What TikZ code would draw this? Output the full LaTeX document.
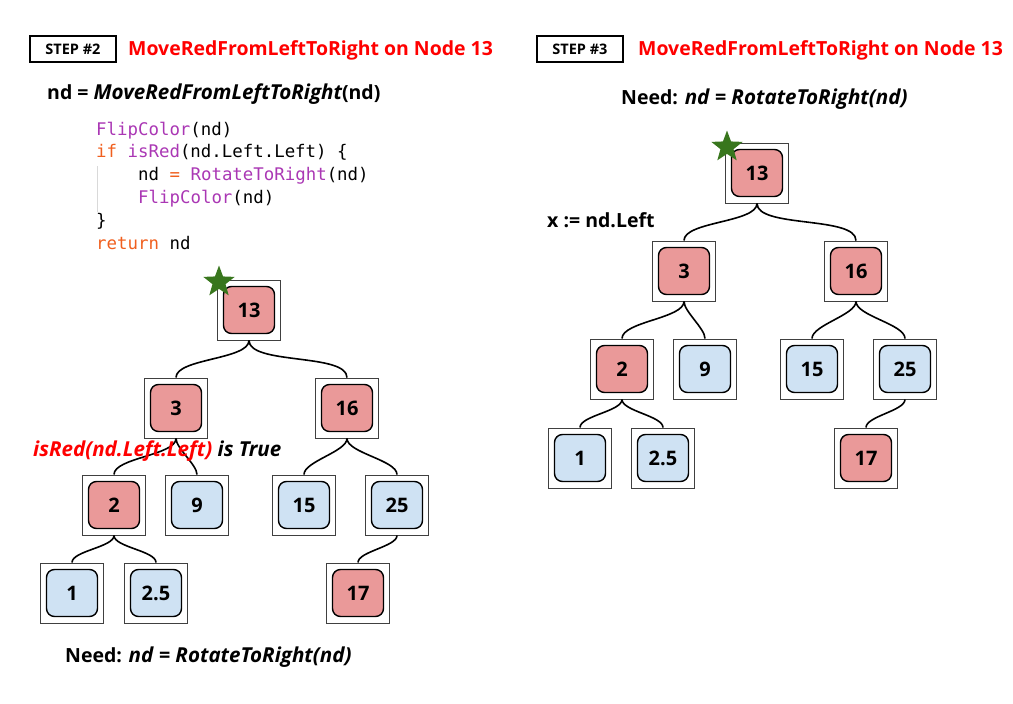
\documentclass[tikz,border=0pt]{standalone}
\usepackage{fontspec}
\setmainfont{Open Sans}
\setmonofont{DejaVu Sans Mono}
\usetikzlibrary{shapes.geometric}

\definecolor{nodered}{RGB}{234,153,153}
\definecolor{nodeblue}{RGB}{207,226,243}
\definecolor{codepurple}{RGB}{170,55,180}
\definecolor{codeorange}{RGB}{240,95,30}
\definecolor{stargreen}{RGB}{56,118,29}
\definecolor{titlered}{RGB}{255,0,0}

% a tree node: outer square frame with a rounded coloured key box inside
\newcommand\treenode[5]{% name, x, y, fill, key
  \node[outerbox] (#1) at (#2,#3) {};
  \node[innerbox, fill=#4] (#1k) at (#1) {#5};
}
% slightly larger bold italic for the formula parts
\newcommand\fn[1]{{\fontsize{20.6}{23}\selectfont\itshape #1}}

\tikzset{
  outerbox/.style={draw=black!75, line width=0.9pt, minimum width=63pt,
    minimum height=60pt, inner sep=0pt},
  innerbox/.style={draw=black, line width=1.4pt, rounded corners=8pt,
    minimum width=51pt, minimum height=47pt, inner sep=0pt,
    font=\bfseries\fontsize{20}{24}\selectfont},
  link/.style={line width=1.6pt, black},
  stepbox/.style={draw=black, line width=1.2pt, minimum width=86pt,
    minimum height=26pt, inner sep=0pt, font=\bfseries\fontsize{14.5}{17}\selectfont},
  title/.style={anchor=base west, inner sep=0pt, text=titlered,
    font=\bfseries\fontsize{19.45}{24}\selectfont},
  label/.style={anchor=base west, inner sep=0pt,
    font=\bfseries\fontsize{19.5}{23}\selectfont},
  code/.style={anchor=base west, inner sep=0pt,
    font=\ttfamily\fontsize{17.4}{21}\selectfont},
  starmark/.style={star, star points=5, star point ratio=2.4, fill=stargreen,
    minimum size=33pt, inner sep=0pt},
}

\begin{document}
\begin{tikzpicture}[x=1pt, y=-1pt]
\useasboundingbox (0,0) rectangle (1013,704);

% ---------- step 2 ----------
\node[stepbox] (s2) at (73,49) {STEP \#2};
\node[title] (t2) at (128,56) {MoveRedFromLeftToRight on Node 13};
\node[label] (call) at (47,99) {nd = \fn{MoveRedFromLeftToRight}(nd)};

\draw[black!15, line width=0.8pt] (97,166) coordinate (g1) -- (97,212) coordinate (g2);
\node[code] (c1) at (96,135) {\textcolor{codepurple}{FlipColor}(nd)};
\node[code] (c2) at (96,157.8) {\textcolor{codeorange}{if} \textcolor{codepurple}{isRed}(nd.Left.Left) \{};
\node[code] (c3) at (138,180.6) {nd \textcolor{codeorange}{=} \textcolor{codepurple}{RotateToRight}(nd)};
\node[code] (c4) at (138,203.4) {\textcolor{codepurple}{FlipColor}(nd)};
\node[code] (c5) at (96,226.2) {\}};
\node[code] (c6) at (96,249) {\textcolor{codeorange}{return} nd};

\treenode{a13}{249}{310}{nodered}{13}
\treenode{a3}{176}{408}{nodered}{3}
\treenode{a16}{347}{408}{nodered}{16}
\treenode{a2}{114}{505}{nodered}{2}
\treenode{a9}{197}{505}{nodeblue}{9}
\treenode{a15}{304}{505}{nodeblue}{15}
\treenode{a25}{397}{505}{nodeblue}{25}
\treenode{a1}{72}{593}{nodeblue}{1}
\treenode{a25b}{156}{593}{nodeblue}{2.5}
\treenode{a17}{358}{593}{nodered}{17}

\foreach \p/\c in {a13/a3, a13/a16, a3/a2, a3/a9, a16/a15, a16/a25,
                   a2/a1, a2/a25b, a25/a17}
  \draw[link] (\p.south) to[out=-90, in=90, looseness=0.6] (\c.north);

\node[starmark] (star2) at (219,282) {};

\node[label] (cond) at (33,456) {\fn{\textcolor{titlered}{isRed(nd.Left.Left)} is True}};
\node[label] (need2) at (65,662) {Need: \fn{nd = RotateToRight(nd)}};

% ---------- step 3 ----------
\node[stepbox] (s3) at (580,49) {STEP \#3};
\node[title] (t3) at (638,56) {MoveRedFromLeftToRight on Node 13};
\node[label] (need3) at (621,104) {Need: \fn{nd = RotateToRight(nd)}};
\node[label] (xdef) at (547,227) {x := nd.Left};

\treenode{b13}{757}{173}{nodered}{13}
\treenode{b3}{684}{271}{nodered}{3}
\treenode{b16}{856}{271}{nodered}{16}
\treenode{b2}{622}{369}{nodered}{2}
\treenode{b9}{705}{369}{nodeblue}{9}
\treenode{b15}{812}{369}{nodeblue}{15}
\treenode{b25}{905}{369}{nodeblue}{25}
\treenode{b1}{580}{458}{nodeblue}{1}
\treenode{b25b}{663}{458}{nodeblue}{2.5}
\treenode{b17}{866}{458}{nodered}{17}

\foreach \p/\c in {b13/b3, b13/b16, b3/b2, b3/b9, b16/b15, b16/b25,
                   b2/b1, b2/b25b, b25/b17}
  \draw[link] (\p.south) to[out=-90, in=90, looseness=0.6] (\c.north);

\node[starmark] (star3) at (727,147) {};
\end{tikzpicture}
\end{document}
